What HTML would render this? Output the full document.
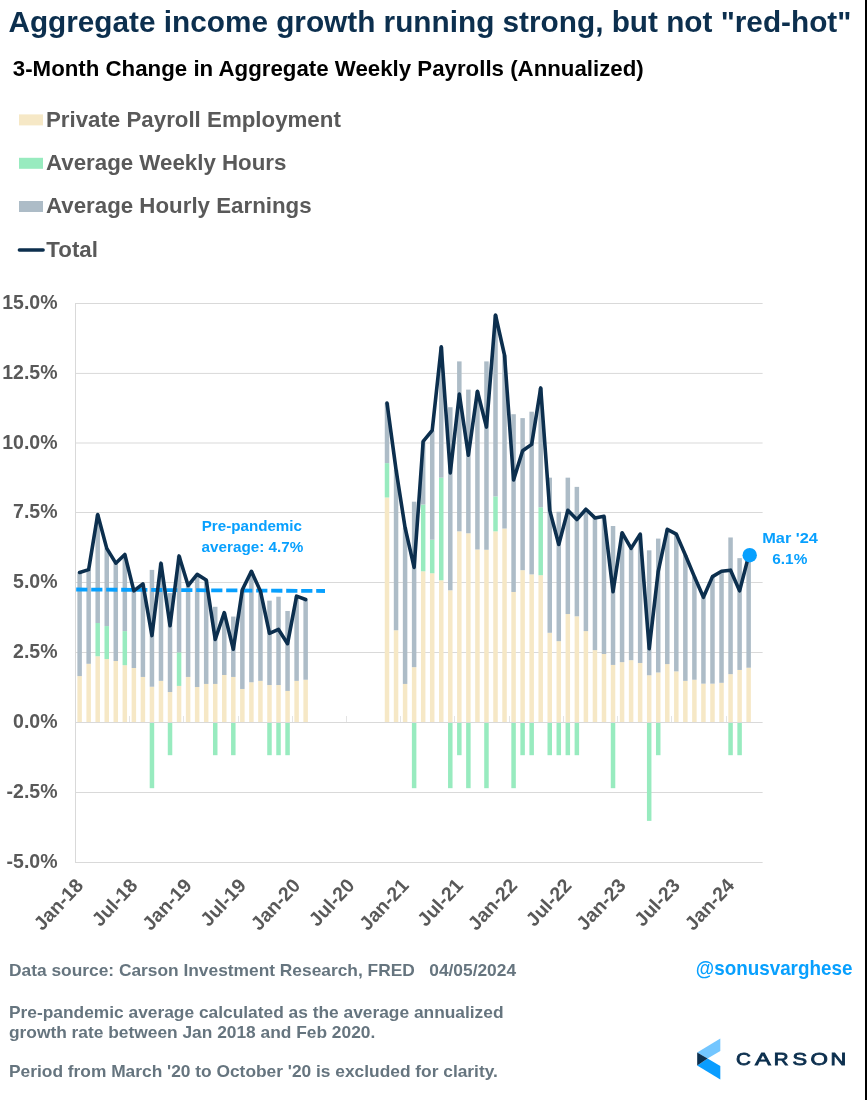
<!DOCTYPE html>
<html><head><meta charset="utf-8"><title>Aggregate income growth</title>
<style>
html,body{margin:0;padding:0;background:#fff;}
body{width:867px;height:1100px;position:relative;overflow:hidden;font-family:"Liberation Sans",sans-serif;}
</style></head><body>
<svg width="867" height="1100" viewBox="0 0 867 1100" style="position:absolute;left:0;top:0;will-change:transform" font-family="Liberation Sans, sans-serif" font-weight="bold">
<text x="8.4" y="32.1" font-size="29.75" fill="#0c2f4e">Aggregate income growth running strong, but not "red-hot"</text>
<text x="12.8" y="76.3" font-size="22.28" fill="#000">3-Month Change in Aggregate Weekly Payrolls (Annualized)</text>
<rect x="19" y="114.4" width="24" height="11" fill="#f6e8c6"/>
<rect x="19" y="157.8" width="24" height="11" fill="#98ebbf"/>
<rect x="19" y="201.0" width="24" height="11" fill="#adbcc7"/>
<line x1="19.4" y1="249.9" x2="43.1" y2="249.9" stroke="#0c2f4e" stroke-width="3.5" stroke-linecap="round"/>
<g font-size="22.3" fill="#595959">
<text x="45.9" y="126.7">Private Payroll Employment</text>
<text x="46.0" y="170.1">Average Weekly Hours</text>
<text x="46.0" y="213.3">Average Hourly Earnings</text>
<text x="46.35" y="256.8">Total</text>
</g>
<g stroke="#d9d9d9" stroke-width="1">
<line x1="75.0" y1="303.5" x2="762.6" y2="303.5"/>
<line x1="75.0" y1="373.42" x2="762.6" y2="373.42"/>
<line x1="75.0" y1="443.0" x2="762.6" y2="443.0"/>
<line x1="75.0" y1="512.5" x2="762.6" y2="512.5"/>
<line x1="75.0" y1="582.5" x2="762.6" y2="582.5"/>
<line x1="75.0" y1="652.5" x2="762.6" y2="652.5"/>
<line x1="75.0" y1="722.5" x2="762.6" y2="722.5"/>
<line x1="75.0" y1="792.5" x2="762.6" y2="792.5"/>
<line x1="75.0" y1="862.5" x2="762.6" y2="862.5"/>
<line x1="75.5" y1="303" x2="75.5" y2="863"/>
</g>
<g stroke="#e4e4e4" stroke-width="1" shape-rendering="crispEdges">
<line x1="129.5" y1="716.0" x2="129.5" y2="722.0"/>
<line x1="183.5" y1="716.0" x2="183.5" y2="722.0"/>
<line x1="238.5" y1="716.0" x2="238.5" y2="722.0"/>
<line x1="292.5" y1="716.0" x2="292.5" y2="722.0"/>
<line x1="346.5" y1="716.0" x2="346.5" y2="722.0"/>
<line x1="400.5" y1="716.0" x2="400.5" y2="722.0"/>
<line x1="454.5" y1="716.0" x2="454.5" y2="722.0"/>
<line x1="509.5" y1="716.0" x2="509.5" y2="722.0"/>
<line x1="563.5" y1="716.0" x2="563.5" y2="722.0"/>
<line x1="617.5" y1="716.0" x2="617.5" y2="722.0"/>
<line x1="671.5" y1="716.0" x2="671.5" y2="722.0"/>
<line x1="726.5" y1="716.0" x2="726.5" y2="722.0"/>
</g>
<g fill="#f6e8c6"><rect x="77.37" y="676.10" width="4.5" height="45.90"/><rect x="86.41" y="663.80" width="4.5" height="58.20"/><rect x="95.45" y="656.26" width="4.5" height="65.74"/><rect x="104.49" y="659.05" width="4.5" height="62.95"/><rect x="113.53" y="661.01" width="4.5" height="60.99"/><rect x="122.57" y="665.20" width="4.5" height="56.80"/><rect x="131.61" y="668.00" width="4.5" height="54.00"/><rect x="140.66" y="676.94" width="4.5" height="45.06"/><rect x="149.70" y="686.72" width="4.5" height="35.28"/><rect x="158.74" y="680.85" width="4.5" height="41.15"/><rect x="167.78" y="692.03" width="4.5" height="29.97"/><rect x="176.82" y="685.89" width="4.5" height="36.11"/><rect x="185.86" y="676.94" width="4.5" height="45.06"/><rect x="194.90" y="687.00" width="4.5" height="35.00"/><rect x="203.94" y="683.93" width="4.5" height="38.07"/><rect x="212.98" y="683.93" width="4.5" height="38.07"/><rect x="222.02" y="674.99" width="4.5" height="47.02"/><rect x="231.06" y="676.94" width="4.5" height="45.06"/><rect x="240.10" y="688.96" width="4.5" height="33.04"/><rect x="249.15" y="682.25" width="4.5" height="39.75"/><rect x="258.19" y="680.85" width="4.5" height="41.15"/><rect x="267.23" y="685.05" width="4.5" height="36.95"/><rect x="276.27" y="685.05" width="4.5" height="36.95"/><rect x="285.31" y="690.92" width="4.5" height="31.08"/><rect x="294.35" y="680.85" width="4.5" height="41.15"/><rect x="303.39" y="679.74" width="4.5" height="42.26"/><rect x="384.76" y="497.50" width="4.5" height="224.50"/><rect x="393.80" y="630.26" width="4.5" height="91.73"/><rect x="402.84" y="683.93" width="4.5" height="38.07"/><rect x="411.88" y="667.16" width="4.5" height="54.84"/><rect x="420.92" y="571.29" width="4.5" height="150.71"/><rect x="429.96" y="573.25" width="4.5" height="148.75"/><rect x="439.00" y="580.23" width="4.5" height="141.77"/><rect x="448.04" y="590.30" width="4.5" height="131.70"/><rect x="457.08" y="531.32" width="4.5" height="190.68"/><rect x="466.12" y="533.28" width="4.5" height="188.72"/><rect x="475.17" y="549.49" width="4.5" height="172.51"/><rect x="484.21" y="549.77" width="4.5" height="172.23"/><rect x="493.25" y="531.32" width="4.5" height="190.68"/><rect x="502.29" y="528.53" width="4.5" height="193.47"/><rect x="511.33" y="591.97" width="4.5" height="130.03"/><rect x="520.37" y="570.17" width="4.5" height="151.83"/><rect x="529.41" y="574.37" width="4.5" height="147.63"/><rect x="538.45" y="575.20" width="4.5" height="146.80"/><rect x="547.49" y="632.78" width="4.5" height="89.22"/><rect x="556.53" y="641.17" width="4.5" height="80.83"/><rect x="565.57" y="614.05" width="4.5" height="107.95"/><rect x="574.61" y="616.29" width="4.5" height="105.71"/><rect x="583.65" y="631.10" width="4.5" height="90.90"/><rect x="592.70" y="650.11" width="4.5" height="71.89"/><rect x="601.74" y="654.02" width="4.5" height="67.98"/><rect x="610.78" y="664.92" width="4.5" height="57.08"/><rect x="619.82" y="662.13" width="4.5" height="59.87"/><rect x="628.86" y="660.17" width="4.5" height="61.83"/><rect x="637.90" y="662.97" width="4.5" height="59.03"/><rect x="646.94" y="675.26" width="4.5" height="46.74"/><rect x="655.98" y="672.47" width="4.5" height="49.53"/><rect x="665.02" y="664.08" width="4.5" height="57.92"/><rect x="674.06" y="671.35" width="4.5" height="50.65"/><rect x="683.10" y="680.85" width="4.5" height="41.15"/><rect x="692.14" y="679.74" width="4.5" height="42.26"/><rect x="701.19" y="683.65" width="4.5" height="38.35"/><rect x="710.23" y="683.65" width="4.5" height="38.35"/><rect x="719.27" y="682.81" width="4.5" height="39.19"/><rect x="728.31" y="674.15" width="4.5" height="47.85"/><rect x="737.35" y="669.95" width="4.5" height="52.05"/><rect x="746.39" y="667.72" width="4.5" height="54.28"/></g>
<g fill="#98ebbf"><rect x="95.45" y="623.00" width="4.5" height="33.26"/><rect x="104.49" y="626.07" width="4.5" height="32.98"/><rect x="122.57" y="631.10" width="4.5" height="34.10"/><rect x="149.70" y="723.00" width="4.5" height="65.18"/><rect x="167.78" y="723.00" width="4.5" height="32.20"/><rect x="176.82" y="652.35" width="4.5" height="33.54"/><rect x="212.98" y="723.00" width="4.5" height="32.20"/><rect x="231.06" y="723.00" width="4.5" height="32.20"/><rect x="267.23" y="723.00" width="4.5" height="32.20"/><rect x="276.27" y="723.00" width="4.5" height="32.20"/><rect x="285.31" y="723.00" width="4.5" height="32.20"/><rect x="384.76" y="463.12" width="4.5" height="34.38"/><rect x="411.88" y="723.00" width="4.5" height="65.18"/><rect x="420.92" y="504.49" width="4.5" height="66.80"/><rect x="429.96" y="539.71" width="4.5" height="33.54"/><rect x="439.00" y="477.66" width="4.5" height="102.58"/><rect x="448.04" y="723.00" width="4.5" height="65.18"/><rect x="457.08" y="723.00" width="4.5" height="32.20"/><rect x="466.12" y="723.00" width="4.5" height="65.18"/><rect x="484.21" y="723.00" width="4.5" height="65.18"/><rect x="493.25" y="496.38" width="4.5" height="34.94"/><rect x="511.33" y="723.00" width="4.5" height="65.18"/><rect x="520.37" y="723.00" width="4.5" height="32.20"/><rect x="529.41" y="723.00" width="4.5" height="32.20"/><rect x="538.45" y="507.29" width="4.5" height="67.92"/><rect x="547.49" y="723.00" width="4.5" height="32.20"/><rect x="556.53" y="723.00" width="4.5" height="32.20"/><rect x="565.57" y="723.00" width="4.5" height="32.20"/><rect x="574.61" y="723.00" width="4.5" height="32.20"/><rect x="610.78" y="723.00" width="4.5" height="65.18"/><rect x="646.94" y="723.00" width="4.5" height="97.88"/><rect x="655.98" y="723.00" width="4.5" height="32.20"/><rect x="728.31" y="723.00" width="4.5" height="32.20"/><rect x="737.35" y="723.00" width="4.5" height="32.20"/></g>
<g fill="#adbcc7"><rect x="77.37" y="572.41" width="4.5" height="103.69"/><rect x="86.41" y="569.61" width="4.5" height="94.19"/><rect x="95.45" y="514.55" width="4.5" height="108.45"/><rect x="104.49" y="548.37" width="4.5" height="77.70"/><rect x="113.53" y="563.18" width="4.5" height="97.83"/><rect x="122.57" y="554.52" width="4.5" height="76.58"/><rect x="131.61" y="590.86" width="4.5" height="77.14"/><rect x="140.66" y="583.87" width="4.5" height="93.07"/><rect x="149.70" y="569.89" width="4.5" height="116.83"/><rect x="158.74" y="563.18" width="4.5" height="117.67"/><rect x="167.78" y="593.09" width="4.5" height="98.94"/><rect x="176.82" y="555.92" width="4.5" height="96.43"/><rect x="185.86" y="585.54" width="4.5" height="91.40"/><rect x="194.90" y="574.37" width="4.5" height="112.64"/><rect x="203.94" y="579.96" width="4.5" height="103.97"/><rect x="212.98" y="606.79" width="4.5" height="77.14"/><rect x="222.02" y="612.66" width="4.5" height="62.33"/><rect x="231.06" y="616.57" width="4.5" height="60.37"/><rect x="240.10" y="589.74" width="4.5" height="99.22"/><rect x="249.15" y="571.29" width="4.5" height="110.96"/><rect x="258.19" y="591.13" width="4.5" height="89.72"/><rect x="267.23" y="600.64" width="4.5" height="84.41"/><rect x="276.27" y="596.73" width="4.5" height="88.32"/><rect x="285.31" y="610.98" width="4.5" height="79.94"/><rect x="294.35" y="596.17" width="4.5" height="84.69"/><rect x="303.39" y="599.52" width="4.5" height="80.22"/><rect x="384.76" y="403.03" width="4.5" height="60.09"/><rect x="393.80" y="469.83" width="4.5" height="160.43"/><rect x="402.84" y="527.69" width="4.5" height="156.24"/><rect x="411.88" y="501.69" width="4.5" height="165.46"/><rect x="420.92" y="441.32" width="4.5" height="63.17"/><rect x="429.96" y="430.42" width="4.5" height="109.28"/><rect x="439.00" y="346.85" width="4.5" height="130.81"/><rect x="448.04" y="407.22" width="4.5" height="183.07"/><rect x="457.08" y="361.39" width="4.5" height="169.94"/><rect x="466.12" y="389.62" width="4.5" height="143.66"/><rect x="475.17" y="391.29" width="4.5" height="158.20"/><rect x="484.21" y="361.39" width="4.5" height="188.38"/><rect x="493.25" y="314.99" width="4.5" height="181.40"/><rect x="502.29" y="355.24" width="4.5" height="173.29"/><rect x="511.33" y="414.21" width="4.5" height="177.76"/><rect x="520.37" y="418.12" width="4.5" height="152.05"/><rect x="529.41" y="411.70" width="4.5" height="162.67"/><rect x="538.45" y="387.94" width="4.5" height="119.35"/><rect x="547.49" y="477.66" width="4.5" height="155.12"/><rect x="556.53" y="511.76" width="4.5" height="129.41"/><rect x="565.57" y="477.66" width="4.5" height="136.40"/><rect x="574.61" y="486.88" width="4.5" height="129.41"/><rect x="583.65" y="509.24" width="4.5" height="121.86"/><rect x="592.70" y="517.91" width="4.5" height="132.20"/><rect x="601.74" y="516.23" width="4.5" height="137.79"/><rect x="610.78" y="526.01" width="4.5" height="138.91"/><rect x="619.82" y="532.72" width="4.5" height="129.41"/><rect x="628.86" y="548.37" width="4.5" height="111.80"/><rect x="637.90" y="534.12" width="4.5" height="128.85"/><rect x="646.94" y="550.33" width="4.5" height="124.94"/><rect x="655.98" y="538.59" width="4.5" height="133.88"/><rect x="665.02" y="529.37" width="4.5" height="134.72"/><rect x="674.06" y="534.12" width="4.5" height="137.23"/><rect x="683.10" y="555.08" width="4.5" height="125.77"/><rect x="692.14" y="576.60" width="4.5" height="103.14"/><rect x="701.19" y="597.28" width="4.5" height="86.37"/><rect x="710.23" y="576.60" width="4.5" height="107.05"/><rect x="719.27" y="571.29" width="4.5" height="111.52"/><rect x="728.31" y="537.47" width="4.5" height="136.68"/><rect x="737.35" y="558.15" width="4.5" height="111.80"/><rect x="746.39" y="555.92" width="4.5" height="111.80"/></g>
<line x1="76.2" y1="589.5" x2="325" y2="591.0" stroke="#08a0fe" stroke-width="3.8" stroke-dasharray="11.2 3.8"/>
<path d="M79.62 572.41 L88.66 569.61 L97.70 514.55 L106.74 548.37 L115.78 563.18 L124.82 554.52 L133.86 590.86 L142.91 583.87 L151.95 635.58 L160.99 563.18 L170.03 625.79 L179.07 555.92 L188.11 585.54 L197.15 574.37 L206.19 579.96 L215.23 639.49 L224.27 612.66 L233.31 649.27 L242.35 589.74 L251.40 571.29 L260.44 591.13 L269.48 633.34 L278.52 629.43 L287.56 643.68 L296.60 596.17 L305.64 599.52" fill="none" stroke="#0c2f4e" stroke-width="3.6" stroke-linejoin="round" stroke-linecap="round"/>
<path d="M387.01 403.03 L396.05 469.83 L405.09 527.69 L414.13 567.38 L423.17 441.32 L432.21 430.42 L441.25 346.85 L450.29 472.91 L459.33 394.09 L468.37 455.30 L477.42 391.29 L486.46 427.07 L495.50 314.99 L504.54 355.24 L513.58 479.89 L522.62 450.83 L531.66 444.40 L540.70 387.94 L549.74 510.36 L558.78 544.46 L567.82 510.36 L576.86 519.58 L585.90 509.24 L594.95 517.91 L603.99 516.23 L613.03 591.69 L622.07 532.72 L631.11 548.37 L640.15 534.12 L649.19 648.71 L658.23 571.29 L667.27 529.37 L676.31 534.12 L685.35 555.08 L694.39 576.60 L703.44 597.28 L712.48 576.60 L721.52 571.29 L730.56 570.17 L739.60 590.86 L748.64 555.92" fill="none" stroke="#0c2f4e" stroke-width="3.6" stroke-linejoin="round" stroke-linecap="round"/>
<circle cx="749.7" cy="555.2" r="7.2" fill="#08a0fe"/>
<g font-size="19.5" fill="#595959" text-anchor="end">
<text x="57.5" y="309.2">15.0%</text>
<text x="57.5" y="379.2">12.5%</text>
<text x="57.5" y="449.2">10.0%</text>
<text x="57.5" y="518.2">7.5%</text>
<text x="57.5" y="588.2">5.0%</text>
<text x="57.5" y="658.2">2.5%</text>
<text x="57.5" y="728.2">0.0%</text>
<text x="57.5" y="798.2">-2.5%</text>
<text x="57.5" y="868.2">-5.0%</text>
</g>
<g font-size="19.5" fill="#595959" text-anchor="end">
<text transform="translate(84.3 886.3) rotate(-47)">Jan-18</text>
<text transform="translate(138.6 886.3) rotate(-47)">Jul-18</text>
<text transform="translate(192.8 886.3) rotate(-47)">Jan-19</text>
<text transform="translate(247.1 886.3) rotate(-47)">Jul-19</text>
<text transform="translate(301.4 886.3) rotate(-47)">Jan-20</text>
<text transform="translate(355.6 886.3) rotate(-47)">Jul-20</text>
<text transform="translate(409.9 886.3) rotate(-47)">Jan-21</text>
<text transform="translate(464.2 886.3) rotate(-47)">Jul-21</text>
<text transform="translate(518.4 886.3) rotate(-47)">Jan-22</text>
<text transform="translate(572.7 886.3) rotate(-47)">Jul-22</text>
<text transform="translate(627.0 886.3) rotate(-47)">Jan-23</text>
<text transform="translate(681.2 886.3) rotate(-47)">Jul-23</text>
<text transform="translate(735.5 886.3) rotate(-47)">Jan-24</text>
</g>
<g font-size="14.4" fill="#08a0fe">
<text x="201.7" y="530.5" textLength="100.3" lengthAdjust="spacingAndGlyphs">Pre-pandemic</text>
<text x="201.6" y="551.7" textLength="101.6" lengthAdjust="spacingAndGlyphs">average: 4.7%</text>
<text x="762.2" y="542.8" textLength="55.7" lengthAdjust="spacingAndGlyphs">Mar '24</text>
<text x="772.3" y="563.8" textLength="35" lengthAdjust="spacingAndGlyphs">6.1%</text>
</g>
<text x="695.8" y="975.3" font-size="19.9" fill="#08a0fe" textLength="156.6" lengthAdjust="spacingAndGlyphs">@sonusvarghese</text>
<g font-size="17.35" fill="#66757f" style="white-space:pre">
<text x="9" y="975.5">Data source: Carson Investment Research, FRED&#160;&#160; 04/05/2024</text>
<text x="9" y="1017.8">Pre-pandemic average calculated as the average annualized</text>
<text x="9" y="1037.5">growth rate between Jan 2018 and Feb 2020.</text>
<text x="9" y="1077.1">Period from March '20 to October '20 is excluded for clarity.</text>
</g>
<polygon points="720.3,1038.4 720.3,1051.05 707.6,1058.5 697.2,1052.5" fill="#73c6ff"/>
<polygon points="707.6,1058.5 720.3,1066.0 720.3,1079.6 697.2,1065.5" fill="#0a9dff"/>
<polygon points="697.2,1052.5 707.6,1058.5 697.2,1065.5" fill="#0c2f4e"/>
<g font-weight="normal" font-size="16.3" fill="#0c2f4e" stroke="#0c2f4e" stroke-width="0.8">
<text x="736.1" y="1064.9" textLength="14.9" lengthAdjust="spacingAndGlyphs">C</text>
<text x="755.1" y="1064.9" textLength="15.8" lengthAdjust="spacingAndGlyphs">A</text>
<text x="773.8" y="1064.9" textLength="14.8" lengthAdjust="spacingAndGlyphs">R</text>
<text x="792.4" y="1064.9" textLength="14.6" lengthAdjust="spacingAndGlyphs">S</text>
<text x="810.5" y="1064.9" textLength="17.4" lengthAdjust="spacingAndGlyphs">O</text>
<text x="830.6" y="1064.9" textLength="15.7" lengthAdjust="spacingAndGlyphs">N</text>
</g>
<rect x="865" y="0" width="2" height="1100" fill="#000"/>
</svg>
</body></html>
